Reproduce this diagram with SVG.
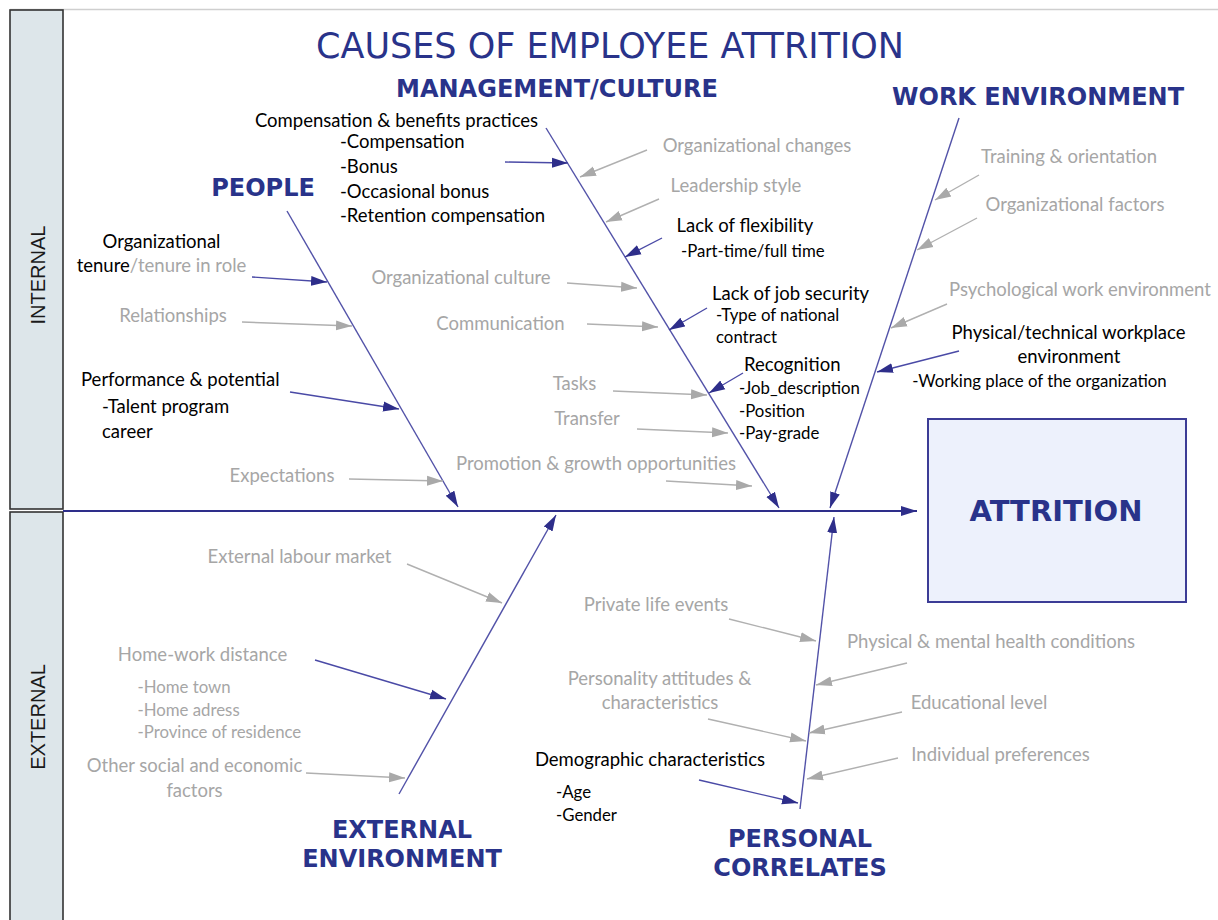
<svg xmlns="http://www.w3.org/2000/svg" width="1218" height="920" viewBox="0 0 1218 920">
  <style>
    .bone { stroke: #5252a8; stroke-width: 1.4; fill: none; marker-end: url(#headDark); }
    .spine { stroke: #2e2e8a; stroke-width: 2.2; fill: none; marker-end: url(#headDark); }
    .subDark { stroke: #4a4aa6; stroke-width: 1.4; fill: none; marker-end: url(#headDark); }
    .subGray { stroke: #b0b0b0; stroke-width: 1.4; fill: none; marker-end: url(#headGray); }
    .t { font-family: Lato, "Open Sans", "Liberation Sans", sans-serif; font-size: 18.5px; }
    .s { font-size: 16.8px; }
    .g { fill: #a6a6a6; }
    .k { fill: #000000; }
    .m { text-anchor: middle; }
    .h { font-family: "DejaVu Sans", Verdana, sans-serif; font-weight: bold; font-size: 24px; fill: #29338a; text-anchor: middle; }
    .side { font-family: "Liberation Sans", Arial, sans-serif; font-size: 20px; fill: #1a1a1a; text-anchor: middle; }
    .band { fill: #dde6ea; stroke: #333333; stroke-width: 1.6; }
  </style>
  <defs>
    <marker id="headDark" markerUnits="userSpaceOnUse" markerWidth="18" markerHeight="12" refX="16" refY="6" orient="auto">
      <path d="M0,1 L16,6 L0,11 z" fill="#2e2e8a"/>
    </marker>
    <marker id="headGray" markerUnits="userSpaceOnUse" markerWidth="18" markerHeight="12" refX="16" refY="6" orient="auto">
      <path d="M0,1 L16,6 L0,11 z" fill="#a9a9a9"/>
    </marker>
  </defs>

  <rect x="0" y="0" width="1218" height="920" fill="#ffffff"/>
  <!-- top rule -->
  <line x1="10" y1="9.5" x2="1218" y2="9.5" stroke="#cfcfcf" stroke-width="1.5"/>

  <!-- side bands -->
  <g id="band-internal">
    <rect class="band" x="10" y="10" width="53" height="499"/>
    <text class="side" transform="translate(45,275) rotate(-90)">INTERNAL</text>
  </g>
  <g id="band-external">
    <rect class="band" x="10" y="512" width="53" height="420"/>
    <text class="side" transform="translate(45,717) rotate(-90)">EXTERNAL</text>
  </g>

  <g id="title">
    <text x="610" y="58" font-family="'DejaVu Sans', Verdana, sans-serif" font-size="35" fill="#29338a" text-anchor="middle">CAUSES OF EMPLOYEE ATTRITION</text>
  </g>

  <!-- connectors: spine, bones and cause arrows -->
  <g id="connectors">
    <line class="spine" x1="63" y1="511" x2="917" y2="511"/>
    <line class="bone" x1="287" y1="211" x2="458" y2="507"/>
    <line class="bone" x1="546" y1="128" x2="779" y2="508"/>
    <line class="bone" x1="959" y1="118" x2="830" y2="508"/>
    <line class="bone" x1="399" y1="794" x2="556" y2="515"/>
    <line class="bone" x1="800" y1="809" x2="834" y2="517"/>

    <line class="subDark" x1="252" y1="277" x2="327" y2="282"/>
    <line class="subDark" x1="290" y1="392" x2="399" y2="409"/>
    <line class="subDark" x1="505" y1="162" x2="568" y2="163"/>
    <line class="subDark" x1="662" y1="238" x2="625" y2="257"/>
    <line class="subDark" x1="707" y1="308" x2="669" y2="330"/>
    <line class="subDark" x1="743" y1="373" x2="709" y2="393"/>
    <line class="subDark" x1="959" y1="351" x2="877" y2="372"/>
    <line class="subDark" x1="315" y1="660" x2="446" y2="699"/>
    <line class="subDark" x1="699" y1="780" x2="798" y2="803"/>

    <line class="subGray" x1="242" y1="322" x2="352" y2="326"/>
    <line class="subGray" x1="349" y1="479" x2="443" y2="481"/>
    <line class="subGray" x1="647" y1="150" x2="580" y2="177"/>
    <line class="subGray" x1="659" y1="199" x2="606" y2="222"/>
    <line class="subGray" x1="567" y1="283" x2="637" y2="288"/>
    <line class="subGray" x1="587" y1="324" x2="658" y2="327"/>
    <line class="subGray" x1="613" y1="391" x2="707" y2="395"/>
    <line class="subGray" x1="637" y1="429" x2="728" y2="433"/>
    <line class="subGray" x1="666" y1="481" x2="752" y2="486"/>
    <line class="subGray" x1="979" y1="175" x2="935" y2="200"/>
    <line class="subGray" x1="977" y1="218" x2="917" y2="250"/>
    <line class="subGray" x1="947" y1="304" x2="891" y2="328"/>
    <line class="subGray" x1="407" y1="564" x2="502" y2="603"/>
    <line class="subGray" x1="306" y1="773" x2="405" y2="778"/>
    <line class="subGray" x1="729" y1="619" x2="816" y2="641"/>
    <line class="subGray" x1="907" y1="663" x2="816" y2="685"/>
    <line class="subGray" x1="708" y1="719" x2="806" y2="741"/>
    <line class="subGray" x1="902" y1="712" x2="809" y2="733"/>
    <line class="subGray" x1="898" y1="758" x2="807" y2="779"/>
  </g>

  <!-- effect -->
  <g id="attrition">
    <rect x="928" y="419" width="258" height="183" fill="#edf1fc" stroke="#3c3c96" stroke-width="2"/>
    <text x="1056" y="521" font-family="'DejaVu Sans', Verdana, sans-serif" font-weight="bold" font-size="29" fill="#29338a" text-anchor="middle">ATTRITION</text>
  </g>

  <!-- category headings -->
  <g id="cat-people"><text class="h" x="263" y="196">PEOPLE</text></g>
  <g id="cat-management"><text class="h" x="557" y="97">MANAGEMENT/CULTURE</text></g>
  <g id="cat-work"><text class="h" x="1038" y="105">WORK ENVIRONMENT</text></g>
  <g id="cat-external">
    <text class="h" x="402" y="838">EXTERNAL</text>
    <text class="h" x="402" y="867">ENVIRONMENT</text>
  </g>
  <g id="cat-personal">
    <text class="h" x="800" y="847">PERSONAL</text>
    <text class="h" x="800" y="876">CORRELATES</text>
  </g>

  <!-- people causes -->
  <g id="cause-tenure" class="t">
    <text class="k m" x="161.5" y="248">Organizational</text>
    <text class="m" x="161.5" y="272"><tspan class="k">tenure</tspan><tspan class="g">/tenure in role</tspan></text>
  </g>
  <g id="cause-relationships" class="t"><text class="g m" x="173" y="322">Relationships</text></g>
  <g id="cause-performance" class="t k">
    <text x="81" y="386">Performance &amp; potential</text>
    <text x="102" y="413">-Talent program</text>
    <text x="102" y="438">career</text>
  </g>
  <g id="cause-expectations" class="t"><text class="g m" x="282" y="482">Expectations</text></g>

  <!-- management/culture causes -->
  <g id="cause-compensation" class="t k">
    <text class="m" x="396.5" y="127">Compensation &amp; benefits practices</text>
    <text x="340" y="148">-Compensation</text>
    <text x="340" y="173">-Bonus</text>
    <text x="340" y="198">-Occasional bonus</text>
    <text x="340" y="222">-Retention compensation</text>
  </g>
  <g id="cause-org-changes" class="t"><text class="g m" x="757" y="152">Organizational changes</text></g>
  <g id="cause-leadership" class="t"><text class="g m" x="736" y="192">Leadership style</text></g>
  <g id="cause-flexibility" class="t k">
    <text class="m" x="745" y="232">Lack of flexibility</text>
    <text class="s" x="681" y="257">-Part-time/full time</text>
  </g>
  <g id="cause-org-culture" class="t"><text class="g m" x="461" y="284">Organizational culture</text></g>
  <g id="cause-communication" class="t"><text class="g m" x="500.5" y="330">Communication</text></g>
  <g id="cause-job-security" class="t k">
    <text class="m" x="790.5" y="300">Lack of job security</text>
    <text class="s" x="716" y="321">-Type of national</text>
    <text class="s" x="716" y="343">contract</text>
  </g>
  <g id="cause-recognition" class="t k">
    <text x="744" y="371">Recognition</text>
    <text class="s" x="739" y="394">-Job_description</text>
    <text class="s" x="739" y="417">-Position</text>
    <text class="s" x="739" y="439">-Pay-grade</text>
  </g>
  <g id="cause-tasks" class="t"><text class="g m" x="574.5" y="390">Tasks</text></g>
  <g id="cause-transfer" class="t"><text class="g m" x="587" y="425">Transfer</text></g>
  <g id="cause-promotion" class="t"><text class="g m" x="596" y="470">Promotion &amp; growth opportunities</text></g>

  <!-- work environment causes -->
  <g id="cause-training" class="t"><text class="g m" x="1069" y="163">Training &amp; orientation</text></g>
  <g id="cause-org-factors" class="t"><text class="g m" x="1075" y="211">Organizational factors</text></g>
  <g id="cause-psych" class="t"><text class="g m" x="1080" y="296">Psychological work environment</text></g>
  <g id="cause-physical" class="t k">
    <text class="m" x="1068.5" y="339">Physical/technical workplace</text>
    <text class="m" x="1069" y="363">environment</text>
    <text class="s m" x="1039.5" y="387">-Working place of the organization</text>
  </g>

  <!-- external environment causes -->
  <g id="cause-labour-market" class="t"><text class="g m" x="299.5" y="563">External labour market</text></g>
  <g id="cause-home-work" class="t g">
    <text class="m" x="202.5" y="661">Home-work distance</text>
    <text class="s" x="137.5" y="693">-Home town</text>
    <text class="s" x="137.5" y="716">-Home adress</text>
    <text class="s" x="137.5" y="738">-Province of residence</text>
  </g>
  <g id="cause-social-economic" class="t g">
    <text class="m" x="194.5" y="772">Other social and economic</text>
    <text class="m" x="194.5" y="797">factors</text>
  </g>

  <!-- personal correlates causes -->
  <g id="cause-private-life" class="t"><text class="g m" x="656" y="611">Private life events</text></g>
  <g id="cause-health" class="t"><text class="g m" x="991" y="648">Physical &amp; mental health conditions</text></g>
  <g id="cause-personality" class="t g">
    <text class="m" x="659.5" y="685">Personality attitudes &amp;</text>
    <text class="m" x="660" y="709">characteristics</text>
  </g>
  <g id="cause-education" class="t"><text class="g m" x="979" y="709">Educational level</text></g>
  <g id="cause-preferences" class="t"><text class="g m" x="1000.5" y="761">Individual preferences</text></g>
  <g id="cause-demographic" class="t k">
    <text class="m" x="650" y="766">Demographic characteristics</text>
    <text class="s" x="556" y="798">-Age</text>
    <text class="s" x="556" y="821">-Gender</text>
  </g>
</svg>
